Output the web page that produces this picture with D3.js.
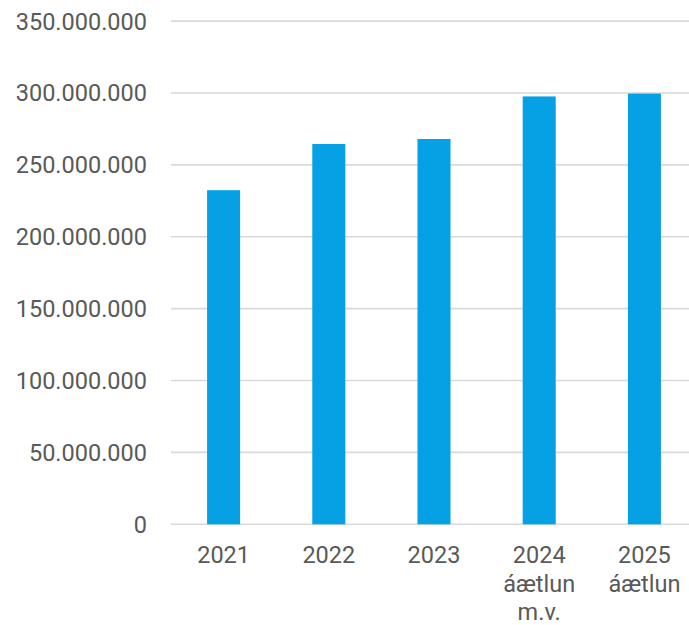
<!DOCTYPE html>
<html><head><meta charset="utf-8">
<script src="https://cdn.jsdelivr.net/npm/d3@7"></script>
<style>
html,body{margin:0;padding:0;background:#fff;}
svg{display:block;}
text{font-family:Roboto, "Noto Sans", sans-serif;fill:#595959;}
</style></head>
<body>
<script>
const categories = [["2021"],["2022"],["2023"],["2024","áætlun","m.v."],["2025","áætlun"]];
const values = [232400000, 264500000, 268000000, 297600000, 299600000];
const yTicks = [0,50000000,100000000,150000000,200000000,250000000,300000000,350000000];

const W = 689, H = 625;
const svg = d3.select("body").append("svg").attr("width", W).attr("height", H);

const x = d3.scaleBand().domain(categories.map((c,i)=>i)).range([171, 697]).paddingInner(0.686).paddingOuter(0.343);
const y = d3.scaleLinear().domain([0, 350000000]).range([524.3, 21.1]);

const fmt = v => d3.format(",")(v).replace(/,/g, ".");

// gridlines
svg.append("g").selectAll("line").data(yTicks).join("line")
  .attr("x1", 171).attr("x2", W)
  .attr("y1", d => y(d)).attr("y2", d => y(d))
  .attr("stroke", "#d9d9d9").attr("stroke-width", 1.6);

// y labels
svg.append("g").selectAll("text").data(yTicks).join("text")
  .attr("x", 147).attr("y", d => y(d))
  .attr("dy", "0.36em")
  .attr("text-anchor", "end")
  .style("font-size", "23.5px")
  .text(d => fmt(d));

// bars
svg.append("g").selectAll("rect").data(values).join("rect")
  .attr("x", (d,i) => x(i))
  .attr("width", x.bandwidth())
  .attr("y", d => y(d))
  .attr("height", d => y(0) - y(d))
  .attr("fill", "#06a1e5");

// x labels
const xl = svg.append("g").selectAll("text").data(categories).join("text")
  .attr("x", (d,i) => x(i) + x.bandwidth()/2)
  .attr("y", 563)
  .attr("text-anchor", "middle")
  .style("font-size", "23.5px");
xl.each(function(d,i){
  const t = d3.select(this);
  d.forEach((line, j) => {
    t.append("tspan").attr("x", x(i) + x.bandwidth()/2).attr("y", 563 + j*28.5).text(line);
  });
});
</script>
</body></html>
